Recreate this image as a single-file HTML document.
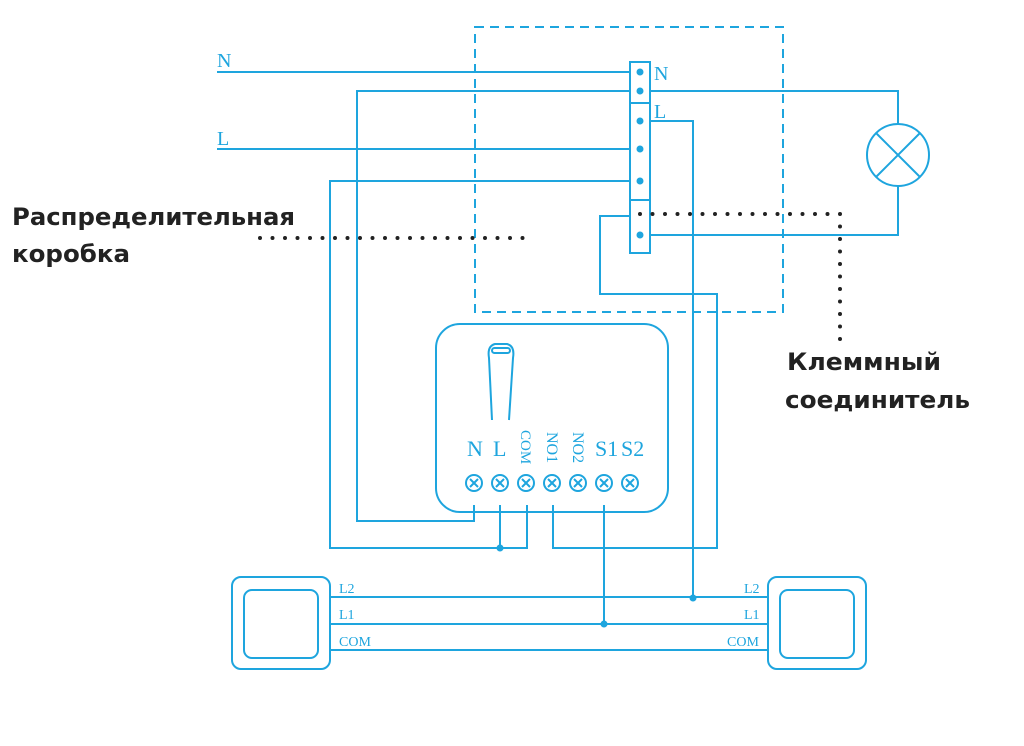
<!DOCTYPE html>
<html><head><meta charset="utf-8"><style>html,body{margin:0;padding:0;background:#fff}svg{display:block}</style></head>
<body>
<svg width="1024" height="746" viewBox="0 0 1024 746" xmlns="http://www.w3.org/2000/svg">
<g fill="none" stroke="#1ea5de" stroke-width="2">
<rect x="475" y="27" width="308" height="285" stroke-dasharray="9,6"/>
<path d="M217 72H630"/>
<path d="M217 149H630"/>
<path d="M630 91H357V521H474V505"/>
<path d="M630 181H330V548H527V505"/>
<path d="M500 505V548"/>
<path d="M553 505V548H717V294H600V216H630"/>
<path d="M604 505V624"/>
<path d="M650 121H693V598"/>
<path d="M650 91H898V124"/>
<path d="M650 235H898V186"/>
<rect x="630" y="62" width="20" height="191"/>
<path d="M630 103H650M630 200H650"/>
<circle cx="898" cy="155" r="31"/>
<path d="M876 133L920 177M920 133L876 177"/>
<rect x="436" y="324" width="232" height="188" rx="24"/>
<path d="M492 420L489 358Q487 346 495 344H507Q515 346 513 358L509 420"/>
<rect x="492" y="348" width="18" height="5" rx="2.5"/>
<rect x="232" y="577" width="98" height="92" rx="9"/>
<rect x="244" y="590" width="74" height="68" rx="8"/>
<rect x="768" y="577" width="98" height="92" rx="9"/>
<rect x="780" y="590" width="74" height="68" rx="8"/>
<path d="M330 597H768M330 624H768M330 650H768"/>
</g>
<g fill="#1ea5de">
<circle cx="640" cy="72" r="3.5"/><circle cx="640" cy="91" r="3.5"/><circle cx="640" cy="121" r="3.5"/>
<circle cx="640" cy="149" r="3.5"/><circle cx="640" cy="181" r="3.5"/><circle cx="640" cy="235" r="3.5"/>
<circle cx="500" cy="548" r="3.5"/><circle cx="693" cy="598" r="3.5"/><circle cx="604" cy="624" r="3.5"/>
</g>
<g fill="none" stroke="#1ea5de" stroke-width="2">
<g id="t"><circle cx="474" cy="483" r="8"/><path d="M470 479L478 487M478 479L470 487"/></g>
<use href="#t" x="26"/><use href="#t" x="52"/><use href="#t" x="78"/><use href="#t" x="104"/><use href="#t" x="130"/><use href="#t" x="156"/>
</g>
<g fill="#1ea5de" font-family="Liberation Serif, serif">
<text x="217" y="67" font-size="20">N</text>
<text x="217" y="145" font-size="20">L</text>
<text x="654" y="80" font-size="20">N</text>
<text x="654" y="118" font-size="20">L</text>
<text x="467" y="456" font-size="22">N</text>
<text x="493" y="456" font-size="22">L</text>
<text x="595" y="456" font-size="22">S1</text>
<text x="621" y="456" font-size="22">S2</text>
<text transform="translate(521,430) rotate(90)" font-size="15">COM</text>
<text transform="translate(547,432) rotate(90)" font-size="16">NO1</text>
<text transform="translate(573,432) rotate(90)" font-size="16">NO2</text>
<text x="339" y="593" font-size="14">L2</text>
<text x="339" y="619" font-size="14">L1</text>
<text x="339" y="646" font-size="14">COM</text>
<text x="744" y="593" font-size="14">L2</text>
<text x="744" y="619" font-size="14">L1</text>
<text x="727" y="646" font-size="14">COM</text>
</g>
<g stroke="#222" stroke-width="4" stroke-linecap="round" stroke-dasharray="0,12.5" fill="none">
<path d="M260 238H535"/>
<path d="M640 214H840V345"/>
</g>
<g fill="#222" font-family="DejaVu Sans, Liberation Sans, sans-serif" font-weight="bold" font-size="24">
<text x="12" y="225" textLength="283" lengthAdjust="spacingAndGlyphs">Распределительная</text>
<text x="12" y="262" textLength="118" lengthAdjust="spacingAndGlyphs">коробка</text>
<text x="787" y="370" textLength="154" lengthAdjust="spacingAndGlyphs">Клеммный</text>
<text x="785" y="408" textLength="185" lengthAdjust="spacingAndGlyphs">соединитель</text>
</g>
</svg>
</body></html>
